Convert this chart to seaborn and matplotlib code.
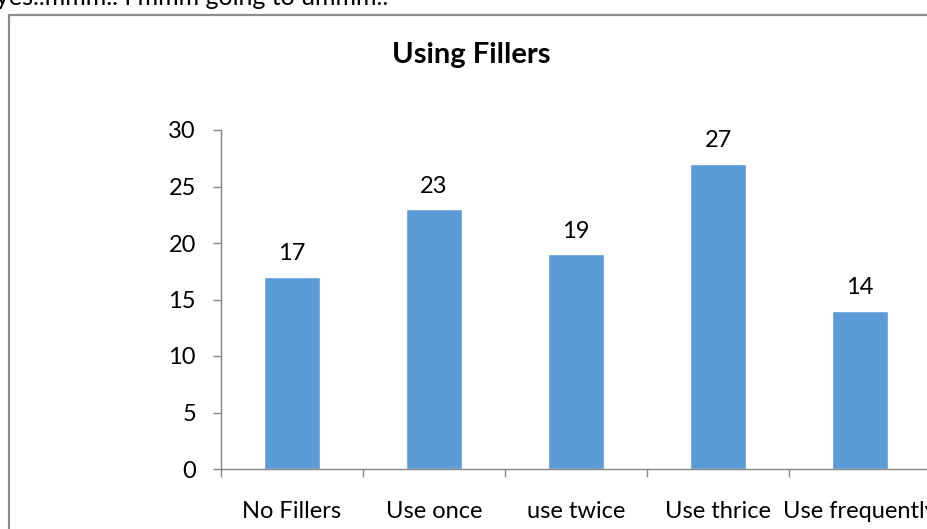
import matplotlib
matplotlib.use("Agg")
import matplotlib.pyplot as plt
from matplotlib.lines import Line2D
import seaborn as sns
import pandas as pd

categories = ["No Fillers", "Use once", "use twice", "Use thrice", "Use frequently"]
counts = [17, 23, 19, 27, 14]
y_ticks = [0, 5, 10, 15, 20, 25, 30]
title = "Using Fillers"
caption = "yes..mmm.. I mmm going to ummm.."

sns.set_theme(style="white")
plt.rcParams["font.family"] = ["Lato", "DejaVu Sans"]

W, H, DPI = 928, 529, 100
fig = plt.figure(figsize=(W / DPI, H / DPI), dpi=DPI)
fig.patch.set_facecolor("white")

# text line running above the chart frame
fig.text(-4 / W, 1 - 5 / H, caption, fontsize=18, color="black",
         ha="left", va="baseline")

# chart frame (left and top edges)
frame_color = "#8c8c8c"
fig.add_artist(Line2D([9.5 / W, 9.5 / W], [0, 1 - 14.5 / H],
                      transform=fig.transFigure, color=frame_color, lw=1.6))
fig.add_artist(Line2D([9.5 / W, 1.01], [1 - 14.5 / H, 1 - 14.5 / H],
                      transform=fig.transFigure, color=frame_color, lw=1.6))

left, right, bottom, top = 221, 931, 469, 130
ax = fig.add_axes([left / W, 1 - bottom / H, (right - left) / W, (bottom - top) / H])
ax.set_facecolor("white")

df = pd.DataFrame({"category": categories, "count": counts})
sns.barplot(data=df, x="category", y="count", color="#5B9BD5", width=0.4,
            saturation=1, ax=ax)

ax.set_xlim(-0.5, len(categories) - 0.5)
ax.set_ylim(0, 30)
ax.set_yticks(y_ticks)
ax.set_xlabel("")
ax.set_ylabel("")

axis_color = "#868686"
for side in ["top", "right"]:
    ax.spines[side].set_visible(False)
for side in ["left", "bottom"]:
    ax.spines[side].set_color(axis_color)
    ax.spines[side].set_linewidth(1.0)

# category ticks sit at the boundaries between bars
ax.set_xticks(range(len(categories)))
ax.set_xticklabels(categories)
ax.set_xticks([i - 0.5 for i in range(len(categories) + 1)], minor=True)
ax.tick_params(axis="x", which="major", length=0, pad=23, labelsize=17,
               labelcolor="black")
ax.tick_params(axis="x", which="minor", length=6, width=1, color=axis_color,
               direction="out", bottom=True)
ax.tick_params(axis="y", which="major", length=6, width=1, color=axis_color,
               direction="out", left=True, pad=12, labelsize=17,
               labelcolor="black")
ax.grid(False)

for container in ax.containers:
    ax.bar_label(container, labels=[str(v) for v in counts], padding=9,
                 fontsize=17, color="black")

fig.text(471 / W, 1 - 55 / H, title, fontsize=21, fontweight="bold",
         ha="center", va="center", color="black")

fig.savefig("out.png", dpi=DPI, facecolor="white")
